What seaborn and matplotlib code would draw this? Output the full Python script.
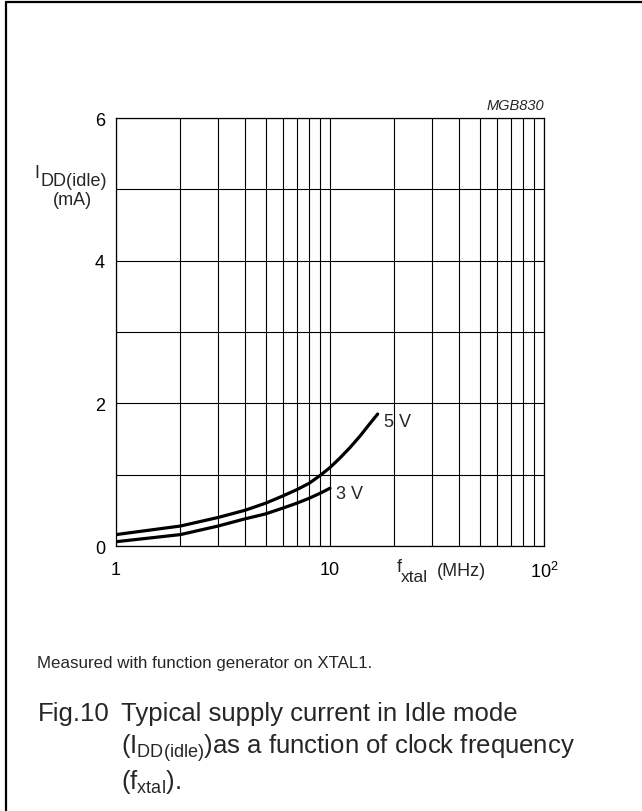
"""Typical supply current in Idle mode vs clock frequency (datasheet Fig.10)."""

import matplotlib
matplotlib.use("Agg")
import matplotlib.pyplot as plt
from matplotlib.lines import Line2D
from matplotlib.ticker import FixedLocator, NullFormatter
import pandas as pd
import seaborn as sns

# curve data
freq_5v = [1, 2, 3, 4, 5, 6, 7, 8, 9, 10, 11.1, 12.4, 13.8, 15.4, 16.7]
idd_5v = [0.16, 0.28, 0.40, 0.50, 0.60, 0.70, 0.79, 0.88, 0.99, 1.10, 1.23, 1.38, 1.54, 1.72, 1.85]

freq_3v = [1, 2, 3, 4, 5, 6, 7, 8, 9, 10]
idd_3v = [0.06, 0.16, 0.28, 0.38, 0.45, 0.53, 0.60, 0.67, 0.74, 0.81]

y_ticks = [0, 2, 4, 6]
y_grid = [0, 1, 2, 3, 4, 5, 6]
x_grid = [1, 2, 3, 4, 5, 6, 7, 8, 9, 10, 20, 30, 40, 50, 60, 70, 80, 90, 100]
x_ticks = [1, 10, 100]
x_tick_labels = ["1", "10", r"$\mathregular{10^2}$"]

sns.set_style("white")
plt.rcParams["font.family"] = ["Liberation Sans", "DejaVu Sans"]
plt.rcParams["mathtext.fontset"] = "custom"
plt.rcParams["mathtext.rm"] = "Liberation Sans"
plt.rcParams["mathtext.it"] = "Liberation Sans:italic"

W, H = 642, 812
fig = plt.figure(figsize=(W / 100, H / 100), dpi=100)


def fx(px):
    return px / W


def fy(py):
    return 1 - py / H


ax = fig.add_axes([fx(116), fy(547), fx(544) - fx(116), fy(119) - fy(547)])

df5 = pd.DataFrame({"f": freq_5v, "i": idd_5v})
df3 = pd.DataFrame({"f": freq_3v, "i": idd_3v})
sns.lineplot(data=df5, x="f", y="i", ax=ax, color="black", lw=2.3, sort=False)
sns.lineplot(data=df3, x="f", y="i", ax=ax, color="black", lw=2.3, sort=False)

ax.set_xscale("log")
ax.set_xlim(1, 100)
ax.set_ylim(0, 6)

# grid lines
for g in y_grid:
    ax.axhline(g, color="black", lw=0.8, zorder=0)
for g in x_grid:
    ax.axvline(g, color="black", lw=0.8, zorder=0)

ax.xaxis.set_major_locator(FixedLocator(x_ticks))
ax.xaxis.set_minor_locator(FixedLocator([]))
ax.xaxis.set_minor_formatter(NullFormatter())
ax.set_xticklabels(x_tick_labels)
ax.set_yticks(y_ticks)
ax.tick_params(axis="both", length=0, labelsize=13, colors="black")
ax.tick_params(axis="x", pad=11)
ax.tick_params(axis="y", pad=8)
ax.set_xlabel("")
ax.set_ylabel("")
for s in ax.spines.values():
    s.set_color("black")
    s.set_linewidth(0.9)

# curve labels
ax.text(17.9, 1.75, "5 V", fontsize=13, va="center", ha="left")
ax.text(10.7, 0.73, "3 V", fontsize=13, va="center", ha="left")

# axis titles (subscripts drawn as separate texts, same size as in the original)
fig.text(fx(34), fy(173), "I", fontsize=13, ha="left", va="center")
fig.text(fx(40), fy(181), "DD(idle)", fontsize=13, ha="left", va="center")
fig.text(fx(72), fy(201), "(mA)", fontsize=13, ha="center", va="center")
fig.text(fx(397), fy(568), "f", fontsize=13, ha="left", va="center")
fig.text(fx(401), fy(578), "xtal", fontsize=12.5, ha="left", va="center")
fig.text(fx(437), fy(572), "(MHz)", fontsize=13, ha="left", va="center")
fig.text(fx(544), fy(106), "MGB830", fontsize=10.5, style="italic", ha="right", va="center")

# notes and caption
fig.text(fx(37), fy(664), "Measured with function generator on XTAL1.", fontsize=12.2,
         ha="left", va="center")
fig.text(fx(38), fy(714), "Fig.10", fontsize=18.5, ha="left", va="center")
fig.text(fx(121), fy(714), "Typical supply current in Idle mode", fontsize=18.5,
         ha="left", va="center")
fig.text(fx(121), fy(748), r"($\mathregular{I_{DD(idle)}}$)as a function of clock frequency",
         fontsize=18.5, ha="left", va="center")
fig.text(fx(121), fy(782), r"($\mathregular{f_{xtal}}$).", fontsize=18.5, ha="left", va="center")

# outer frame: left and top edges only
fig.lines.append(Line2D([fx(6), fx(6)], [fy(3), 0], transform=fig.transFigure, color="black", lw=1.6))
fig.lines.append(Line2D([fx(6), 1], [fy(3), fy(3)], transform=fig.transFigure, color="black", lw=1.6))

fig.savefig("out.png", dpi=100)
